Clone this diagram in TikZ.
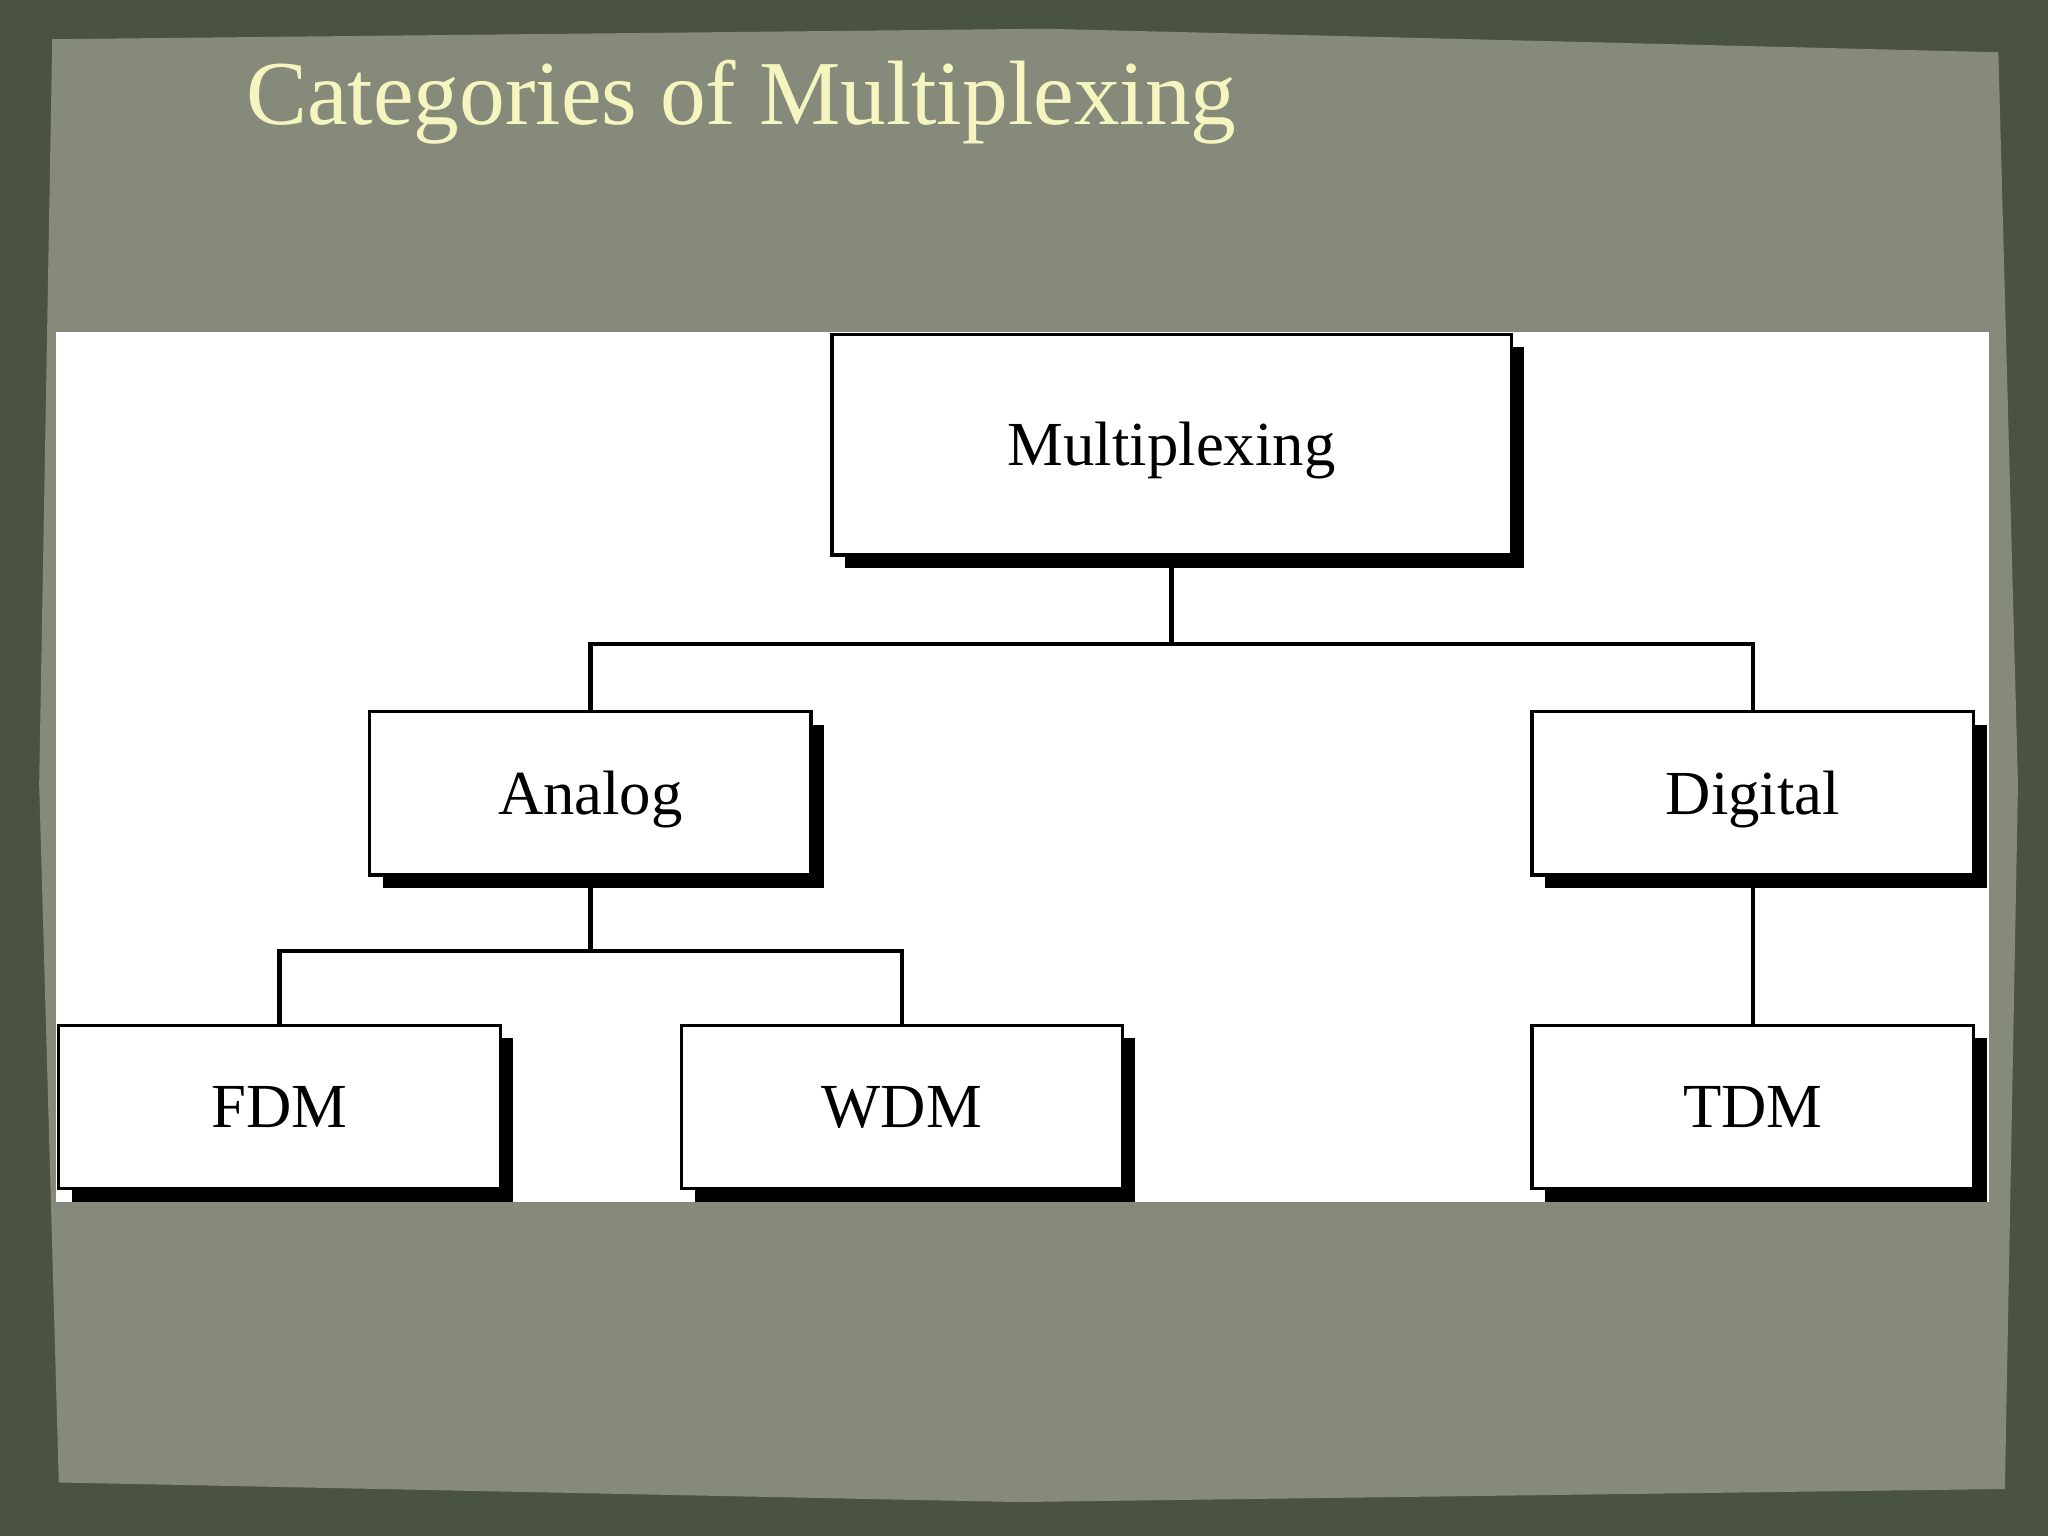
\documentclass[tikz,border=0pt]{standalone}
\usepackage{fontspec}
\setmainfont{Liberation Serif}
\begin{document}
\begin{tikzpicture}[x=1pt,y=-1pt,
  bx/.style={draw=black,line width=2.5pt,fill=white,minimum width=#1,minimum height=125pt,font=\fontsize{48}{52}\selectfont,inner sep=0pt,text depth=6pt,text height=38pt},
  bx/.default=338pt,
  conn/.style={line width=3.5pt}]
\useasboundingbox (0,0) rectangle (1568,1176);
\fill[fill={rgb,255:red,74;green,82;blue,64}] (0,0) rectangle (1568,1176);
\fill[fill={rgb,255:red,134;green,138;blue,122}] (40,30) -- (800,22) -- (1530,40) -- (1545,600) -- (1535,1140) -- (780,1150) -- (45,1135) -- (30,600) -- cycle;
\fill[white] (43,254) rectangle (1523,920);
\node[anchor=base west,text={rgb,255:red,245;green,245;blue,192},font=\fontsize{70}{74}\selectfont] (title) at (185,95) {Categories of Multiplexing};
% shadows
\foreach \a/\b/\c/\d in {637/256/1157/425,283/545/621/670,1173/545/1511/670,45/785/383/910,522/785/859/910,1173/785/1511/910}
  \fill[black] (\a+10,\b+10) rectangle (\c+10,\d+10);
\node[bx=520pt,minimum height=169pt] (m) at (897,340.5) {Multiplexing};
\node[bx] (an) at (452,607.5) {Analog};
\node[bx] (dg) at (1342,607.5) {Digital};
\node[bx] (fdm) at (214,847.5) {FDM};
\node[bx] (wdm) at (690.5,847.5) {WDM};
\node[bx] (tdm) at (1342,847.5) {TDM};
\coordinate (j1) at (897,493);
\coordinate (j2) at (452,728);
\draw[conn] (m.south) -- (j1) -- (j1 -| an) -- (an.north);
\draw[conn] (j1) -- (j1 -| dg) -- (dg.north);
\draw[conn] (an.south) -- (j2) -- (j2 -| fdm) -- (fdm.north);
\draw[conn] (j2) -- (j2 -| wdm) -- (wdm.north);
\draw[conn] (dg.south) -- (tdm.north);
\end{tikzpicture}
\end{document}
